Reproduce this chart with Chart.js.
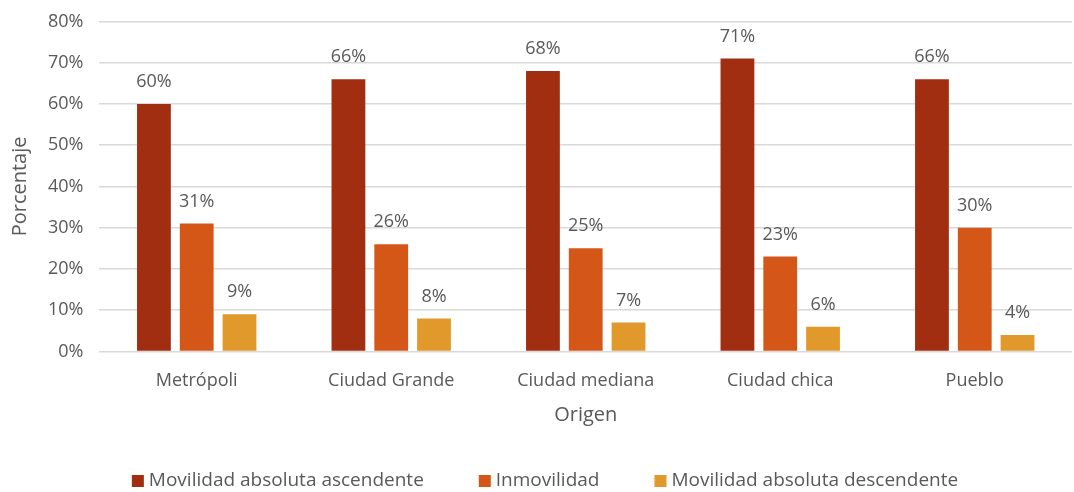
<!DOCTYPE html>
<html>
<head>
<meta charset="utf-8">
<script src="https://cdn.jsdelivr.net/npm/chart.js@4"></script>
<style>
  html, body { margin: 0; padding: 0; background: #fff; }
  #wrap { width: 1074px; height: 492px; }
</style>
</head>
<body>
<div id="wrap"><canvas id="chart"></canvas></div>
<script>
const categories = ['Metrópoli', 'Ciudad Grande', 'Ciudad mediana', 'Ciudad chica', 'Pueblo'];
const seriesNames = ['Movilidad absoluta ascendente', 'Inmovilidad', 'Movilidad absoluta descendente'];
const ascendente = [60, 66, 68, 71, 66];
const inmovilidad = [31, 26, 25, 23, 30];
const descendente = [9, 8, 7, 6, 4];
const colors = ['#A22E12', '#D55718', '#E2992B'];

const textColor = '#595959';
const fontFamily = "'Open Sans', 'Noto Sans', sans-serif";

// etiquetas de valor encima de cada barra
const barLabels = {
    id: 'barLabels',
    afterDatasetsDraw(chart) {
        const ctx = chart.ctx;
        ctx.save();
        ctx.fillStyle = textColor;
        ctx.font = '18px ' + fontFamily;
        ctx.textAlign = 'center';
        ctx.textBaseline = 'middle';
        chart.data.datasets.forEach((ds, i) => {
            chart.getDatasetMeta(i).data.forEach((bar, j) => {
                ctx.fillText(ds.data[j] + '%', bar.x, bar.y - 22);
            });
        });
        ctx.restore();
    }
};

// leyenda dibujada a mano para controlar la separacion
const bottomLegend = {
    id: 'bottomLegend',
    afterDraw(chart) {
        const ctx = chart.ctx;
        const box = 12, gapBox = 5, gap = 55;
        const y = 481;
        ctx.save();
        ctx.font = '19px ' + fontFamily;
        ctx.textBaseline = 'middle';
        const widths = chart.data.datasets.map(ds => box + gapBox + ctx.measureText(ds.label).width);
        const total = widths.reduce((a, b) => a + b, 0) + gap * (widths.length - 1);
        let x = chart.width / 2 + 8 - total / 2;
        chart.data.datasets.forEach((ds, i) => {
            ctx.fillStyle = ds.backgroundColor;
            ctx.fillRect(x, y - box / 2, box, box);
            ctx.fillStyle = textColor;
            ctx.fillText(ds.label, x + box + gapBox, y);
            x += widths[i] + gap;
        });
        ctx.restore();
    }
};

const ctx = document.getElementById('chart').getContext('2d');
const chart = new Chart(ctx, {
    type: 'bar',
    data: {
        labels: categories,
        datasets: [
            { label: seriesNames[0], data: ascendente, backgroundColor: colors[0] },
            { label: seriesNames[1], data: inmovilidad, backgroundColor: colors[1] },
            { label: seriesNames[2], data: descendente, backgroundColor: colors[2] },
        ]
    },
    options: {
        responsive: true,
        maintainAspectRatio: false,
        animation: false,
        layout: { padding: { top: 2, right: 2, left: 4, bottom: 65 } },
        datasets: {
            bar: { categoryPercentage: 0.66, barPercentage: 0.79 }
        },
        scales: {
            x: {
                grid: { display: false },
                border: { display: false },
                ticks: { color: textColor, font: { family: fontFamily, size: 18 }, padding: 11 },
                title: { display: true, text: 'Origen', color: textColor, font: { family: fontFamily, size: 20 }, padding: { top: 0, bottom: 0 } }
            },
            y: {
                min: 0,
                max: 80,
                ticks: {
                    stepSize: 10,
                    color: textColor,
                    font: { family: fontFamily, size: 18, lineHeight: 0.6 },
                    padding: 16,
                    callback: (v) => v + '%'
                },
                grid: { color: '#D9D9D9', lineWidth: 1.5, drawTicks: false },
                border: { display: false },
                title: { display: true, text: 'Porcentaje', color: textColor, font: { family: fontFamily, size: 20 }, padding: { bottom: 0 } }
            }
        },
        plugins: {
            legend: { display: false },
            tooltip: { enabled: false }
        }
    },
    plugins: [barLabels, bottomLegend]
});
</script>
</body>
</html>
